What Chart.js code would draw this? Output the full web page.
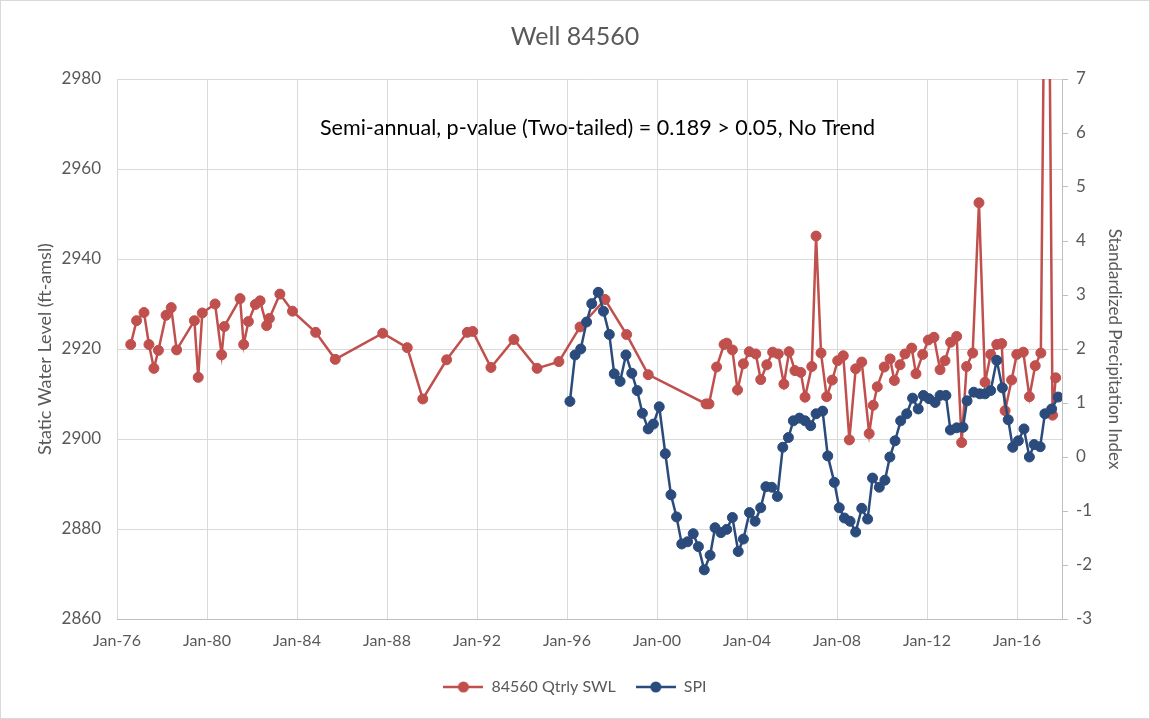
<!DOCTYPE html>
<html>
<head>
<meta charset="utf-8">
<script src="https://cdn.jsdelivr.net/npm/chart.js@4/dist/chart.umd.min.js"></script>
<style>
  html, body { margin: 0; padding: 0; background: #ffffff; }
  #wrap { width: 1150px; height: 719px; position: relative; }
</style>
</head>
<body>
<div id="wrap"><canvas id="c" width="1150" height="719"></canvas></div>
<script>
// ---- Data ----
const chartTitle = "Well 84560";
const noteText = "Semi-annual, p-value (Two-tailed) = 0.189 > 0.05, No Trend";
const seriesNames = ["84560 Qtrly SWL", "SPI"];

const tickYears = [1976, 1980, 1984, 1988, 1992, 1996, 2000, 2004, 2008, 2012, 2016];
const tickLabels = ["Jan-76", "Jan-80", "Jan-84", "Jan-88", "Jan-92", "Jan-96", "Jan-00", "Jan-04", "Jan-08", "Jan-12", "Jan-16"];

// Static water level (ft-amsl), dates in decimal years
const swlDates = [
  1976.61, 1976.87, 1977.20, 1977.42, 1977.64, 1977.84, 1978.18, 1978.41, 1978.65, 1979.44,
  1979.61, 1979.79, 1980.36, 1980.65, 1980.77, 1981.47, 1981.63, 1981.84, 1982.15, 1982.36,
  1982.65, 1982.77, 1983.24, 1983.80, 1984.83, 1985.70, 1987.81, 1988.90, 1989.59, 1990.65,
  1991.57, 1991.81, 1992.62, 1993.64, 1994.67, 1995.64, 1996.58, 1997.69, 1998.65, 1999.61,
  2002.18, 2002.31, 2002.65, 2002.98, 2003.10, 2003.35, 2003.58, 2003.84, 2004.10, 2004.39,
  2004.61, 2004.88, 2005.14, 2005.39, 2005.64, 2005.87, 2006.13, 2006.39, 2006.58, 2006.88,
  2007.07, 2007.29, 2007.54, 2007.79, 2008.03, 2008.28, 2008.55, 2008.83, 2009.10, 2009.43,
  2009.61, 2009.79, 2010.10, 2010.36, 2010.55, 2010.80, 2011.02, 2011.32, 2011.51, 2011.81,
  2012.06, 2012.31, 2012.58, 2012.80, 2013.05, 2013.32, 2013.54, 2013.76, 2014.03, 2014.31,
  2014.58, 2014.83, 2015.10, 2015.32, 2015.47, 2015.76, 2015.99, 2016.28, 2016.55, 2016.81,
  2017.06, 2017.33, 2017.58, 2017.72
];
const swlValues = [
  2921.0, 2926.3, 2928.1, 2921.0, 2915.7, 2919.7, 2927.5, 2929.2, 2919.8, 2926.3,
  2913.7, 2928.0, 2930.0, 2918.7, 2925.0, 2931.2, 2921.0, 2926.1, 2929.9, 2930.7,
  2925.2, 2926.8, 2932.2, 2928.4, 2923.7, 2917.7, 2923.5, 2920.3, 2908.9, 2917.6,
  2923.7, 2923.9, 2915.9, 2922.1, 2915.7, 2917.2, 2924.9, 2931.0, 2923.2, 2914.3,
  2907.8, 2907.8, 2916.0, 2921.0, 2921.3, 2919.8, 2910.9, 2916.7, 2919.4, 2918.9,
  2913.2, 2916.5, 2919.3, 2918.9, 2912.2, 2919.4, 2915.2, 2914.8, 2909.3, 2916.1,
  2945.1, 2919.1, 2909.4, 2913.1, 2917.4, 2918.5, 2899.8, 2915.6, 2917.1, 2901.2,
  2907.5, 2911.6, 2916.0, 2917.8, 2913.0, 2916.5, 2918.9, 2920.2, 2914.5, 2918.8,
  2922.0, 2922.6, 2915.4, 2917.4, 2921.5, 2922.8, 2899.2, 2916.1, 2919.1, 2952.5,
  2912.6, 2918.8, 2921.0, 2921.2, 2906.3, 2913.1, 2918.8, 2919.3, 2909.4, 2916.3,
  2919.1, 3064.0, 2905.3, 2913.6
];

// Standardized Precipitation Index
const spiDates = [
  1996.13, 1996.36, 1996.61, 1996.87, 1997.10, 1997.39, 1997.62, 1997.88, 1998.10, 1998.36,
  1998.62, 1998.88, 1999.12, 1999.35, 1999.61, 1999.84, 2000.10, 2000.37, 2000.62, 2000.87,
  2001.10, 2001.36, 2001.61, 2001.84, 2002.10, 2002.36, 2002.58, 2002.84, 2003.10, 2003.35,
  2003.61, 2003.84, 2004.11, 2004.36, 2004.61, 2004.84, 2005.10, 2005.35, 2005.59, 2005.84,
  2006.06, 2006.33, 2006.58, 2006.83, 2007.07, 2007.36, 2007.59, 2007.88, 2008.10, 2008.33,
  2008.58, 2008.83, 2009.10, 2009.36, 2009.58, 2009.88, 2010.13, 2010.35, 2010.58, 2010.83,
  2011.10, 2011.36, 2011.61, 2011.84, 2012.09, 2012.36, 2012.58, 2012.84, 2013.04, 2013.32,
  2013.60, 2013.78, 2014.08, 2014.35, 2014.58, 2014.83, 2015.10, 2015.35, 2015.61, 2015.81,
  2016.06, 2016.31, 2016.55, 2016.76, 2017.03, 2017.24, 2017.54, 2017.83
];
const spiValues = [
  1.03, 1.89, 2.00, 2.50, 2.84, 3.05, 2.70, 2.27, 1.54, 1.40,
  1.89, 1.55, 1.23, 0.81, 0.52, 0.61, 0.93, 0.06, -0.70, -1.11,
  -1.61, -1.57, -1.42, -1.66, -2.09, -1.82, -1.31, -1.40, -1.34, -1.12,
  -1.75, -1.52, -1.03, -1.19, -0.94, -0.55, -0.56, -0.73, 0.18, 0.36,
  0.67, 0.72, 0.67, 0.58, 0.80, 0.85, 0.02, -0.47, -0.94, -1.13,
  -1.19, -1.39, -0.95, -1.15, -0.39, -0.56, -0.43, 0.00, 0.30, 0.67,
  0.80, 1.09, 0.89, 1.14, 1.08, 1.01, 1.14, 1.14, 0.50, 0.54,
  0.55, 1.04, 1.20, 1.17, 1.17, 1.23, 1.79, 1.28, 0.69, 0.18,
  0.30, 0.52, 0.00, 0.23, 0.19, 0.80, 0.89, 1.11
];

// ---- Styling ----
const RED = "#C0504D";
const BLUE = "#2A4B7C";
const TEXT = "#595959";
const GRID = "#d9d9d9";
const AXIS = "#bfbfbf";
const FONT = "Lato";

Chart.defaults.font.family = FONT;
Chart.defaults.color = TEXT;

function legendIcon(color) {
  const c = document.createElement("canvas");
  c.width = 40; c.height = 14;
  const g = c.getContext("2d");
  g.strokeStyle = color; g.lineWidth = 2.5;
  g.beginPath(); g.moveTo(0, 7); g.lineTo(40, 7); g.stroke();
  g.fillStyle = color;
  g.beginPath(); g.arc(20, 7, 5.5, 0, Math.PI * 2); g.fill();
  return c;
}
const icons = [legendIcon(RED), legendIcon(BLUE)];

const swlData = swlDates.map((d, i) => ({ x: d, y: swlValues[i] }));
const spiData = spiDates.map((d, i) => ({ x: d, y: spiValues[i] }));

const bgPlugin = {
  id: "bg",
  beforeDraw(chart) {
    const ctx = chart.ctx;
    ctx.save();
    ctx.fillStyle = "#ffffff";
    ctx.fillRect(0, 0, chart.width, chart.height);
    ctx.strokeStyle = GRID;
    ctx.lineWidth = 1;
    ctx.strokeRect(0.5, 0.5, chart.width - 1, chart.height - 1);
    ctx.restore();
  },
  afterDraw(chart) {
    const ctx = chart.ctx;
    const a = chart.chartArea;
    ctx.save();
    ctx.font = "21.5px " + FONT;
    ctx.fillStyle = "#000000";
    ctx.textAlign = "center";
    ctx.textBaseline = "middle";
    ctx.fillText(noteText, (a.left + a.right) / 2 + 8, a.top + 49);
    ctx.restore();
  }
};

new Chart(document.getElementById("c"), {
  type: "line",
  data: {
    datasets: [
      {
        label: seriesNames[0],
        data: swlData,
        yAxisID: "yL",
        borderColor: RED,
        backgroundColor: RED,
        pointBackgroundColor: RED,
        pointBorderColor: RED,
        borderWidth: 2.5,
        pointRadius: 5,
        pointBorderWidth: 1,
        tension: 0,
        order: 2
      },
      {
        label: seriesNames[1],
        data: spiData,
        yAxisID: "yR",
        borderColor: BLUE,
        backgroundColor: BLUE,
        pointBackgroundColor: BLUE,
        pointBorderColor: BLUE,
        borderWidth: 2.5,
        pointRadius: 5,
        pointBorderWidth: 1,
        tension: 0,
        order: 1
      }
    ]
  },
  options: {
    responsive: false,
    animation: false,
    devicePixelRatio: 1,
    layout: { padding: { top: 0, left: 0, right: 0, bottom: 14 } },
    plugins: {
      title: {
        display: true,
        text: chartTitle,
        color: TEXT,
        font: { size: 25, weight: "normal", family: FONT },
        padding: { top: 22, bottom: 27 }
      },
      legend: {
        position: "bottom",
        labels: {
          usePointStyle: true,
          pointStyleWidth: 40,
          padding: 20,
          color: TEXT,
          font: { size: 16, family: FONT },
          sort: (a, b) => a.datasetIndex - b.datasetIndex,
          generateLabels(chart) {
            const items = Chart.defaults.plugins.legend.labels.generateLabels(chart);
            items.forEach(it => { it.pointStyle = icons[it.datasetIndex]; });
            return items;
          }
        }
      },
      tooltip: { enabled: false }
    },
    scales: {
      x: {
        type: "linear",
        position: "bottom",
        min: 1976,
        max: 2018,
        afterBuildTicks(scale) { scale.ticks = tickYears.map(v => ({ value: v })); },
        afterFit(scale) { scale.height = 40; },
        ticks: {
          autoSkip: false,
          maxRotation: 0,
          padding: 12,
          color: TEXT,
          font: { size: 16, family: FONT },
          callback: (v) => tickLabels[tickYears.indexOf(v)]
        },
        grid: { color: GRID, lineWidth: 1, drawTicks: false },
        border: { color: AXIS, width: 1 }
      },
      yL: {
        type: "linear",
        position: "left",
        min: 2860,
        max: 2980,
        afterFit(scale) { scale.width = 117; },
        ticks: {
          stepSize: 20,
          padding: 16,
          color: TEXT,
          font: { size: 17, family: FONT },
          callback: (v) => String(v)
        },
        grid: { color: GRID, lineWidth: 1, drawTicks: false },
        border: { display: false },
        title: {
          display: true,
          text: "Static Water Level (ft-amsl)",
          color: TEXT,
          font: { size: 18, family: FONT },
          padding: { top: 34, bottom: 0 }
        }
      },
      yR: {
        type: "linear",
        position: "right",
        min: -3,
        max: 7,
        afterFit(scale) { scale.width = 88; },
        ticks: {
          stepSize: 1,
          padding: 8,
          color: TEXT,
          font: { size: 17, family: FONT },
          callback: (v) => String(v)
        },
        grid: { drawOnChartArea: false, drawTicks: true, tickLength: 6, color: AXIS },
        border: { color: AXIS, width: 1 },
        title: {
          display: true,
          text: "Standardized Precipitation Index",
          color: TEXT,
          font: { size: 17, family: FONT },
          padding: { top: 25, bottom: 0 }
        }
      }
    }
  },
  plugins: [bgPlugin]
});
</script>
</body>
</html>
